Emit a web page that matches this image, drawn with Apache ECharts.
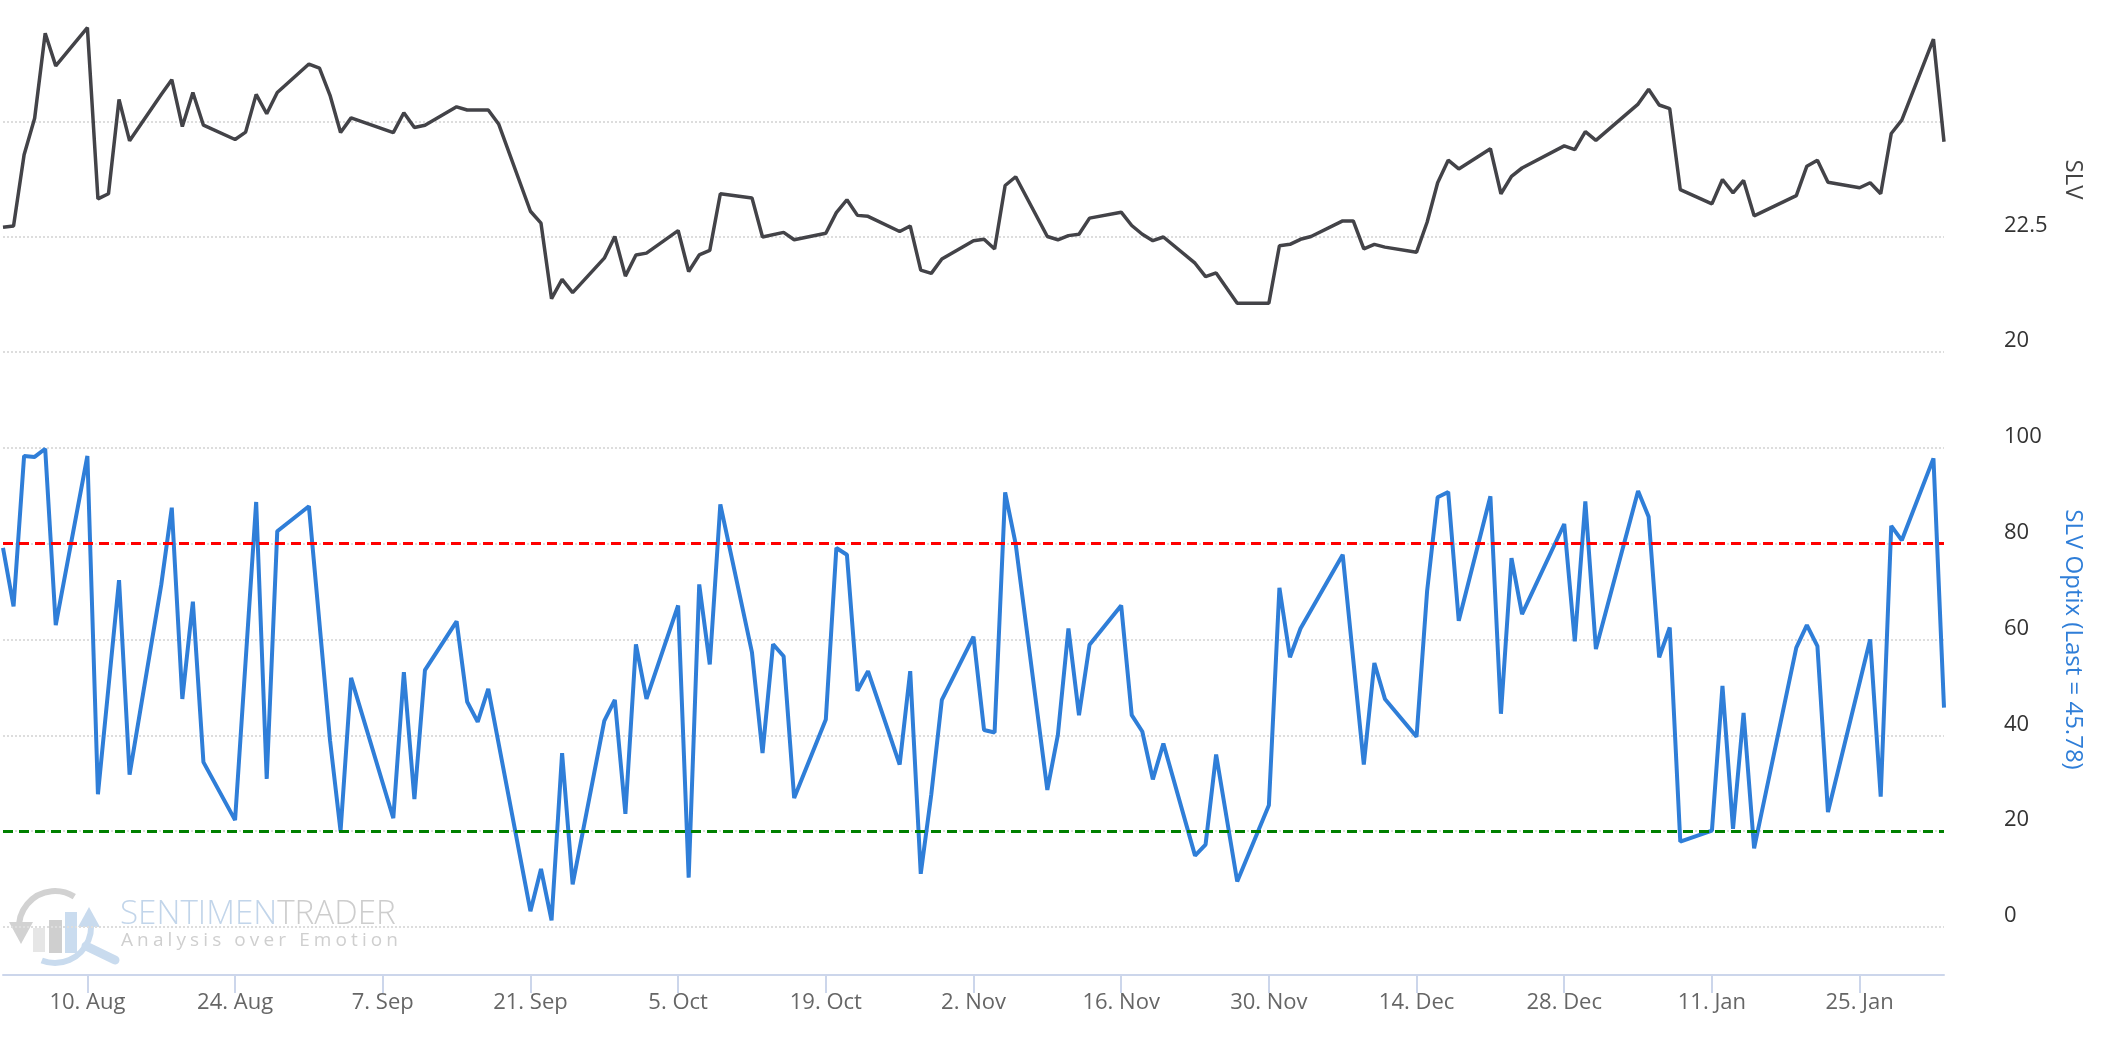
<!DOCTYPE html>
<html>
<head>
<meta charset="utf-8">
<script src="https://cdn.jsdelivr.net/npm/echarts@6/dist/echarts.min.js"></script>
<style>
  html, body { margin: 0; padding: 0; background: #ffffff; }
  #chart { width: 2106px; height: 1046px; }
</style>
</head>
<body>
<div id="chart"></div>
<script>
// ---------------- DATA ----------------
const xRange = ['2020-08-02', '2021-02-02'];
const xTickDates = ['2020-08-10', '2020-08-24', '2020-09-07', '2020-09-21', '2020-10-05', '2020-10-19',
  '2020-11-02', '2020-11-16', '2020-11-30', '2020-12-14', '2020-12-28', '2021-01-11', '2021-01-25'];
const monthNames = ['Jan', 'Feb', 'Mar', 'Apr', 'May', 'Jun', 'Jul', 'Aug', 'Sep', 'Oct', 'Nov', 'Dec'];

const slvDates = ['2020-08-02', '2020-08-03', '2020-08-04', '2020-08-05', '2020-08-06', '2020-08-07',
  '2020-08-10', '2020-08-11', '2020-08-12', '2020-08-13', '2020-08-14', '2020-08-17', '2020-08-18',
  '2020-08-19', '2020-08-20', '2020-08-21', '2020-08-24', '2020-08-25', '2020-08-26', '2020-08-27',
  '2020-08-28', '2020-08-31', '2020-09-01', '2020-09-02', '2020-09-03', '2020-09-04', '2020-09-08',
  '2020-09-09', '2020-09-10', '2020-09-11', '2020-09-14', '2020-09-15', '2020-09-16', '2020-09-17',
  '2020-09-18', '2020-09-21', '2020-09-22', '2020-09-23', '2020-09-24', '2020-09-25', '2020-09-28',
  '2020-09-29', '2020-09-30', '2020-10-01', '2020-10-02', '2020-10-05', '2020-10-06', '2020-10-07',
  '2020-10-08', '2020-10-09', '2020-10-12', '2020-10-13', '2020-10-15', '2020-10-16', '2020-10-19',
  '2020-10-20', '2020-10-21', '2020-10-22', '2020-10-23', '2020-10-26', '2020-10-27', '2020-10-28',
  '2020-10-29', '2020-10-30', '2020-11-02', '2020-11-03', '2020-11-04', '2020-11-05', '2020-11-06',
  '2020-11-09', '2020-11-10', '2020-11-11', '2020-11-12', '2020-11-13', '2020-11-16', '2020-11-17',
  '2020-11-18', '2020-11-19', '2020-11-20', '2020-11-23', '2020-11-24', '2020-11-25', '2020-11-27',
  '2020-11-30', '2020-12-01', '2020-12-02', '2020-12-03', '2020-12-04', '2020-12-07', '2020-12-08',
  '2020-12-09', '2020-12-10', '2020-12-11', '2020-12-14', '2020-12-15', '2020-12-16', '2020-12-17',
  '2020-12-18', '2020-12-21', '2020-12-22', '2020-12-23', '2020-12-24', '2020-12-28', '2020-12-29',
  '2020-12-30', '2020-12-31', '2021-01-04', '2021-01-05', '2021-01-06', '2021-01-07', '2021-01-08',
  '2021-01-11', '2021-01-12', '2021-01-13', '2021-01-14', '2021-01-15', '2021-01-19', '2021-01-20',
  '2021-01-21', '2021-01-22', '2021-01-25', '2021-01-26', '2021-01-27', '2021-01-28', '2021-01-29',
  '2021-02-01', '2021-02-02'];
const slvValues = [22.71, 22.74, 24.29, 25.08, 26.93, 26.22,
  27.05, 23.33, 23.44, 25.49, 24.59, 25.60, 25.92,
  24.90, 25.64, 24.93, 24.62, 24.78, 25.60, 25.18,
  25.64, 26.26, 26.17, 25.58, 24.77, 25.09, 24.77,
  25.20, 24.88, 24.93, 25.33, 25.26, 25.26, 25.26,
  24.95, 23.06, 22.80, 21.16, 21.58, 21.29, 22.04,
  22.51, 21.65, 22.11, 22.15, 22.64, 21.75, 22.11,
  22.21, 23.44, 23.35, 22.50, 22.60, 22.44, 22.58,
  23.03, 23.31, 22.97, 22.95, 22.62, 22.74, 21.78,
  21.71, 22.02, 22.42, 22.45, 22.24, 23.62, 23.81,
  22.51, 22.44, 22.53, 22.56, 22.91, 23.04, 22.75,
  22.56, 22.42, 22.50, 21.93, 21.64, 21.72, 21.06,
  21.06, 22.31, 22.34, 22.45, 22.51, 22.85, 22.85,
  22.24, 22.34, 22.28, 22.17, 22.82, 23.68, 24.17,
  23.98, 24.42, 23.44, 23.82, 24.00, 24.48, 24.40,
  24.79, 24.60, 25.39, 25.71, 25.37, 25.29, 23.53,
  23.22, 23.75, 23.46, 23.73, 22.96, 23.40, 24.04,
  24.17, 23.69, 23.57, 23.68, 23.44, 24.75, 25.04,
  26.80, 24.57];

const optixDates = ['2020-08-02', '2020-08-03', '2020-08-04', '2020-08-05', '2020-08-06', '2020-08-07',
  '2020-08-10', '2020-08-11', '2020-08-13', '2020-08-14', '2020-08-17', '2020-08-18', '2020-08-19',
  '2020-08-20', '2020-08-21', '2020-08-24', '2020-08-26', '2020-08-27', '2020-08-28', '2020-08-31',
  '2020-09-02', '2020-09-03', '2020-09-04', '2020-09-08', '2020-09-09', '2020-09-10', '2020-09-11',
  '2020-09-14', '2020-09-15', '2020-09-16', '2020-09-17', '2020-09-21', '2020-09-22', '2020-09-23',
  '2020-09-24', '2020-09-25', '2020-09-28', '2020-09-29', '2020-09-30', '2020-10-01', '2020-10-02',
  '2020-10-05', '2020-10-06', '2020-10-07', '2020-10-08', '2020-10-09', '2020-10-12', '2020-10-13',
  '2020-10-14', '2020-10-15', '2020-10-16', '2020-10-19', '2020-10-20', '2020-10-21', '2020-10-22',
  '2020-10-23', '2020-10-26', '2020-10-27', '2020-10-28', '2020-10-29', '2020-10-30', '2020-11-02',
  '2020-11-03', '2020-11-04', '2020-11-05', '2020-11-06', '2020-11-09', '2020-11-10', '2020-11-11',
  '2020-11-12', '2020-11-13', '2020-11-16', '2020-11-17', '2020-11-18', '2020-11-19', '2020-11-20',
  '2020-11-23', '2020-11-24', '2020-11-25', '2020-11-27', '2020-11-30', '2020-12-01', '2020-12-02',
  '2020-12-03', '2020-12-07', '2020-12-09', '2020-12-10', '2020-12-11', '2020-12-14', '2020-12-15',
  '2020-12-16', '2020-12-17', '2020-12-18', '2020-12-21', '2020-12-22', '2020-12-23', '2020-12-24',
  '2020-12-28', '2020-12-29', '2020-12-30', '2020-12-31', '2021-01-04', '2021-01-05', '2021-01-06',
  '2021-01-07', '2021-01-08', '2021-01-11', '2021-01-12', '2021-01-13', '2021-01-14', '2021-01-15',
  '2021-01-19', '2021-01-20', '2021-01-21', '2021-01-22', '2021-01-26', '2021-01-27', '2021-01-28',
  '2021-01-29', '2021-02-01', '2021-02-02'];
const optixValues = [79.1, 66.9, 98.3, 98.1, 99.8, 63.0,
  98.3, 27.7, 72.4, 31.8, 71.4, 87.5, 47.6,
  67.9, 34.4, 22.3, 88.7, 30.9, 82.6, 87.8,
  39.0, 20.0, 52.0, 22.7, 53.2, 26.7, 53.6,
  63.8, 47.0, 42.8, 49.7, 3.3, 12.1, 1.4,
  36.3, 8.9, 43.0, 47.4, 23.6, 59.0, 47.6,
  67.1, 10.3, 71.5, 54.8, 88.2, 57.3, 36.3,
  59.0, 56.5, 26.9, 43.3, 79.1, 77.7, 49.3,
  53.4, 33.9, 53.4, 11.1, 27.7, 47.4, 60.6,
  41.1, 40.6, 90.7, 79.9, 28.6, 40.1, 62.3,
  44.2, 58.9, 67.1, 44.2, 40.8, 30.8, 38.3,
  14.9, 17.2, 36.0, 9.5, 25.4, 70.8, 56.3,
  62.3, 77.7, 33.9, 55.1, 47.6, 39.7, 70.1,
  89.7, 90.8, 63.9, 89.9, 44.5, 77.0, 65.3,
  84.1, 59.6, 88.8, 58.0, 91.0, 85.6, 56.3,
  62.5, 17.8, 20.1, 50.3, 20.5, 44.7, 16.4,
  58.3, 63.0, 58.6, 24.0, 60.0, 27.2, 83.7,
  80.7, 97.8, 45.78];

const slvAxisLabels = [20, 22.5];
const optixAxisLabels = [0, 20, 40, 60, 80, 100];
const optixLevels = [80, 20];           // upper / lower reference levels
const optixLevelColors = ['#ff0000', '#008000'];

// ---------------- HELPERS ----------------
const ts = s => Date.parse(s + 'T00:00:00Z');
const fmtDate = v => { const d = new Date(v); return d.getUTCDate() + '. ' + monthNames[d.getUTCMonth()]; };
const FONT = "'Open Sans', 'Noto Sans', sans-serif";

const slvData = slvDates.map((d, i) => [ts(d), slvValues[i]]);
const optixData = optixDates.map((d, i) => [ts(d), optixValues[i]]);
const tickValues = xTickDates.map(ts);

// ---------------- WATERMARK ----------------
const measureCtx = document.createElement('canvas').getContext('2d');
function textWidth(t, size, weight) {
  measureCtx.font = (weight || 'normal') + ' ' + size + 'px ' + FONT;
  return measureCtx.measureText(t).width;
}
const wmElements = [];
// logo ring
wmElements.push({ type: 'arc', shape: { cx: 55, cy: 927, r: 36, startAngle: Math.PI * 0.97, endAngle: Math.PI * 1.68, clockwise: true },
  style: { stroke: '#d2d2d2', lineWidth: 6, fill: null } });
wmElements.push({ type: 'polygon', shape: { points: [[9, 922], [33, 922], [21, 944]] }, style: { fill: '#d2d2d2' } });
wmElements.push({ type: 'arc', shape: { cx: 55, cy: 927, r: 36, startAngle: -Math.PI * 0.13, endAngle: Math.PI * 0.62, clockwise: true },
  style: { stroke: '#c9dbee', lineWidth: 6, fill: null } });
wmElements.push({ type: 'polygon', shape: { points: [[78, 927], [100, 927], [89, 907]] }, style: { fill: '#c9dbee' } });
wmElements.push({ type: 'rect', shape: { x: 33, y: 928, width: 12, height: 24 }, style: { fill: '#e6e6e6' } });
wmElements.push({ type: 'rect', shape: { x: 49, y: 920, width: 13, height: 33 }, style: { fill: '#cfcfcf' } });
wmElements.push({ type: 'rect', shape: { x: 65, y: 912, width: 12, height: 41 }, style: { fill: '#cadcef' } });
wmElements.push({ type: 'line', shape: { x1: 86, y1: 946, x2: 115, y2: 960 }, style: { stroke: '#c9dbee', lineWidth: 9, lineCap: 'round' } });
// SENTIMENTRADER
(function () {
  const base = 33;
  const wAll = textWidth('SENTIMENTRADER', base, 300);
  const size = base * 276 / wAll;
  const w1 = textWidth('SENTIMEN', size, 300);
  wmElements.push({ type: 'text', x: 120, y: 915, style: { text: 'SENTIMEN', fill: '#c2d5ea', font: '300 ' + size + 'px ' + FONT, verticalAlign: 'middle', align: 'left' } });
  wmElements.push({ type: 'text', x: 120 + w1, y: 915, style: { text: 'TRADER', fill: '#cdcdcd', font: '300 ' + size + 'px ' + FONT, verticalAlign: 'middle', align: 'left' } });
  // Analysis over Emotion (letter-spaced)
  const tag = 'Analysis over Emotion';
  const fs = 19;
  let sum = 0; const ws = [];
  for (const ch of tag) { const w = textWidth(ch, fs, 'normal'); ws.push(w); sum += w; }
  const sp = (277 - sum) / (tag.length - 1);
  let x = 121;
  for (let i = 0; i < tag.length; i++) {
    if (tag[i] !== ' ') {
      wmElements.push({ type: 'text', x: x, y: 941, style: { text: tag[i], fill: '#cfcfcf', font: fs + 'px ' + FONT, verticalAlign: 'middle', align: 'left' } });
    }
    x += ws[i] + sp;
  }
})();

// ---------------- CHART ----------------
const chart = echarts.init(document.getElementById('chart'));
const gridLine = { show: true, showMaxLine: false, lineStyle: { color: '#dddddd', width: 2, type: [2, 2] } };

chart.setOption({
  animation: false,
  backgroundColor: '#ffffff',
  graphic: [{ type: 'group', silent: true, z: 0, children: wmElements }],
  grid: [
    { left: 3, right: 162, top: 7, height: 345 },
    { left: 3, right: 162, top: 352, height: 575 }
  ],
  xAxis: [
    { type: 'value', gridIndex: 0, min: ts(xRange[0]), max: ts(xRange[1]), show: false, splitLine: { show: false } },
    {
      type: 'value', gridIndex: 1, min: ts(xRange[0]), max: ts(xRange[1]), offset: 48,
      axisLine: { show: true, onZero: false, lineStyle: { color: '#ccd6eb', width: 2 } },
      axisTick: { show: true, customValues: tickValues, length: 18, lineStyle: { color: '#ccd6eb', width: 2 } },
      axisLabel: { customValues: tickValues, formatter: fmtDate, color: '#666666', fontSize: 22, fontFamily: FONT, margin: 17 },
      splitLine: { show: false }
    }
  ],
  yAxis: [
    {
      type: 'value', gridIndex: 0, position: 'right', min: 20, max: 27.5, interval: 2.5,
      axisLine: { show: false }, axisTick: { show: false },
      axisLabel: { customValues: slvAxisLabels, color: '#333333', fontSize: 22, fontFamily: FONT, margin: 60, verticalAlign: 'bottom', align: 'left' },
      splitLine: gridLine,
      name: 'SLV', nameLocation: 'middle', nameRotate: -90, nameGap: 117,
      nameTextStyle: { color: '#444444', fontSize: 24, fontFamily: FONT }
    },
    {
      type: 'value', gridIndex: 1, position: 'right', min: 0, max: 120, interval: 20,
      axisLine: { show: false }, axisTick: { show: false },
      axisLabel: { customValues: optixAxisLabels, color: '#333333', fontSize: 22, fontFamily: FONT, margin: 60, verticalAlign: 'bottom', align: 'left' },
      splitLine: gridLine,
      name: 'SLV Optix (Last = ' + optixValues[optixValues.length - 1] + ')', nameLocation: 'middle', nameRotate: -90, nameGap: 117,
      nameTextStyle: { color: '#2f7ed8', fontSize: 24, fontFamily: FONT }
    }
  ],
  series: [
    {
      type: 'line', xAxisIndex: 0, yAxisIndex: 0, data: slvData, showSymbol: false, clip: true,
      lineStyle: { color: '#434348', width: 3.5 }, z: 3
    },
    {
      type: 'line', xAxisIndex: 1, yAxisIndex: 1, data: optixData, showSymbol: false, clip: true,
      lineStyle: { color: '#2f7ed8', width: 4 }, z: 3,
      markLine: {
        silent: true, symbol: ['none', 'none'], label: { show: false }, animation: false,
        data: optixLevels.map((v, i) => ({ yAxis: v, lineStyle: { color: optixLevelColors[i], width: 3, type: [10, 6] } }))
      }
    }
  ]
});
</script>
</body>
</html>
